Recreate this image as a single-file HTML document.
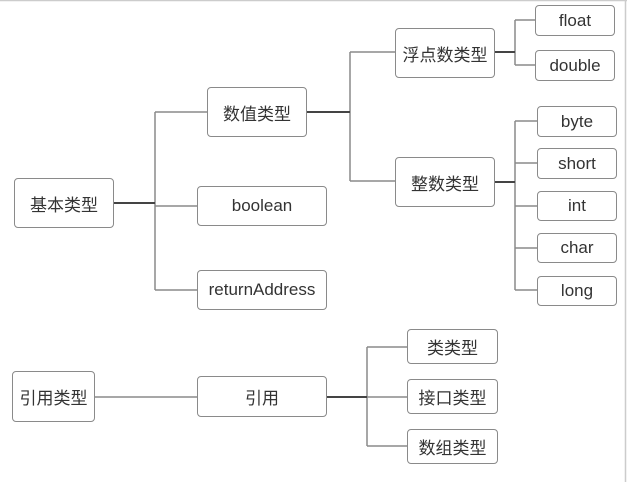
<!DOCTYPE html><html><head><meta charset="utf-8"><style>
body{margin:0;width:627px;height:482px;background:#fff;overflow:hidden;position:relative;font-family:"Liberation Sans","Noto Sans CJK SC",sans-serif}
.b{position:absolute;box-sizing:border-box;border:1.5px solid #8a8a8a;border-radius:4px;background:#fff;display:flex;align-items:center;justify-content:center;font-size:17px;color:#333}
svg{position:absolute;left:0;top:0}
</style></head><body>
<svg width="627" height="482"><g stroke="#8a8a8a" stroke-width="1.5" fill="none">
<line x1="0" y1="0.5" x2="627" y2="0.5" stroke="#ccc"/><line x1="625.5" y1="0" x2="625.5" y2="482" stroke="#ccc"/>
<path d="M114 203H155M155 112V290M155 112H207M155 206H197M155 290H197"/>
<path d="M307 112H350M350 52V181M350 52H395M350 181H395"/>
<path d="M495 52H515M515 20V65M515 20H535M515 65H535"/>
<path d="M495 182H515M515 121V290M515 121H537M515 163H537M515 206H537M515 248H537M515 290H537"/>
<path d="M95 397H197M327 397H367M367 347V446M367 347H407M367 397H407M367 446H407"/>
</g>
<g stroke="#444" stroke-width="2"><path d="M114 203H155M307 112H350M495 52H515M495 182H515M327 397H367"/></g></svg>
<div class="b" style="left:14px;top:178px;width:100px;height:50px">基本类型</div>
<div class="b" style="left:207px;top:87px;width:100px;height:50px">数值类型</div>
<div class="b" style="left:197px;top:186px;width:130px;height:40px">boolean</div>
<div class="b" style="left:197px;top:270px;width:130px;height:40px">returnAddress</div>
<div class="b" style="left:395px;top:28px;width:100px;height:50px">浮点数类型</div>
<div class="b" style="left:395px;top:157px;width:100px;height:50px">整数类型</div>
<div class="b" style="left:535px;top:5px;width:80px;height:31px">float</div>
<div class="b" style="left:535px;top:50px;width:80px;height:31px">double</div>
<div class="b" style="left:537px;top:106px;width:80px;height:31px">byte</div>
<div class="b" style="left:537px;top:148px;width:80px;height:31px">short</div>
<div class="b" style="left:537px;top:191px;width:80px;height:30px">int</div>
<div class="b" style="left:537px;top:233px;width:80px;height:30px">char</div>
<div class="b" style="left:537px;top:276px;width:80px;height:30px">long</div>
<div class="b" style="left:12px;top:371px;width:83px;height:51px">引用类型</div>
<div class="b" style="left:197px;top:376px;width:130px;height:41px">引用</div>
<div class="b" style="left:407px;top:329px;width:91px;height:35px">类类型</div>
<div class="b" style="left:407px;top:379px;width:91px;height:35px">接口类型</div>
<div class="b" style="left:407px;top:429px;width:91px;height:35px">数组类型</div>
</body></html>
